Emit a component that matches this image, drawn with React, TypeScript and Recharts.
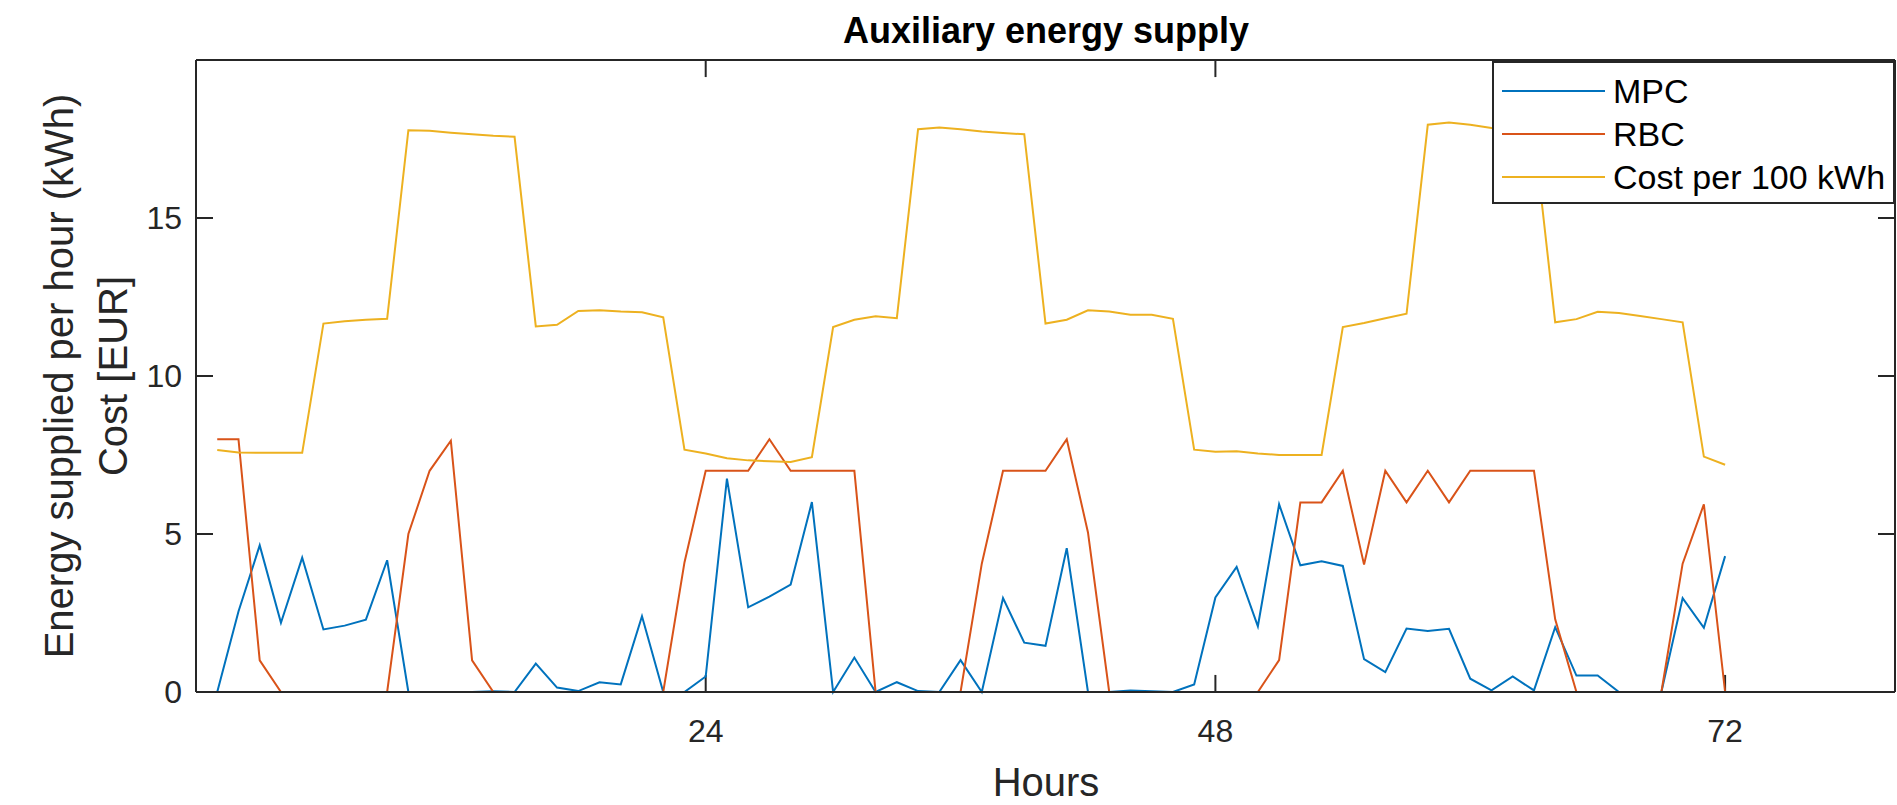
import React from 'react';
import {
  LineChart,
  Line,
  XAxis,
  YAxis,
  Label,
  ReferenceLine
} from 'recharts';

// hours 1..72
const hours = [
  1, 2, 3, 4, 5, 6, 7, 8, 9, 10, 11, 12, 13, 14, 15, 16, 17, 18, 19, 20, 21, 22, 23, 24,
  25, 26, 27, 28, 29, 30, 31, 32, 33, 34, 35, 36, 37, 38, 39, 40, 41, 42, 43, 44, 45, 46, 47, 48,
  49, 50, 51, 52, 53, 54, 55, 56, 57, 58, 59, 60, 61, 62, 63, 64, 65, 66, 67, 68, 69, 70, 71, 72
];

const mpc = [
  0, 2.55, 4.64, 2.19, 4.25, 1.98, 2.1, 2.29, 4.17, 0, 0, 0, 0, 0.02, 0, 0.9, 0.14, 0.03, 0.31, 0.24, 2.4, 0, 0, 0.49,
  6.75, 2.68, 3.02, 3.4, 6.01, 0, 1.09, 0, 0.31, 0.03, 0, 1.01, 0, 2.97, 1.56, 1.46, 4.55, 0, 0, 0.05, 0.02, 0, 0.24, 2.99,
  3.96, 2.08, 5.94, 4.01, 4.14, 3.99, 1.04, 0.63, 2.01, 1.93, 2.0, 0.42, 0.05, 0.49, 0.05, 2.05, 0.52, 0.52, 0, 0, 0, 2.97, 2.03, 4.3
];

const rbc = [
  8, 8, 1.0, 0, 0, 0, 0, 0, 0, 5.0, 7.0, 7.95, 1.0, 0, 0, 0, 0, 0, 0, 0, 0, 0, 4.1, 7,
  7, 7, 8, 7, 7, 7, 7, 0, 0, 0, 0, 0, 4.06, 7, 7, 7, 8, 5.05, 0, 0, 0, 0, 0, 0,
  0, 0, 1.01, 6, 6, 7, 4.03, 7, 6, 7, 6, 7, 7, 7, 7, 2.3, 0, 0, 0, 0, 0, 4.06, 5.94, 0
];

const cost = [
  7.66, 7.58, 7.57, 7.57, 7.57, 11.66, 11.73, 11.78, 11.81, 17.78, 17.76, 17.7, 17.65, 17.6, 17.57, 11.57, 11.62, 12.06, 12.08, 12.04, 12.02, 11.86, 7.67, 7.55,
  7.4, 7.33, 7.3, 7.28, 7.43, 11.55, 11.78, 11.89, 11.83, 17.81, 17.86, 17.81, 17.74, 17.69, 17.65, 11.66, 11.78, 12.08, 12.04, 11.94, 11.94, 11.81, 7.67, 7.6,
  7.62, 7.55, 7.5, 7.5, 7.5, 11.55, 11.68, 11.83, 11.97, 17.95, 18.02, 17.95, 17.85, 17.78, 17.7, 11.7, 11.8, 12.03, 11.99, 11.9, 11.8, 11.7, 7.45, 7.19
];

const xTicks = [24, 48, 72];
const yTicks = [0, 5, 10, 15];

const series = [
  { key: 'mpc', name: 'MPC', color: '#0072BD' },
  { key: 'rbc', name: 'RBC', color: '#D95319' },
  { key: 'cost', name: 'Cost per 100 kWh', color: '#EDB120' }
];

const data = hours.map((h, i) => ({ hour: h, mpc: mpc[i], rbc: rbc[i], cost: cost[i] }));

const FONT = '"Liberation Sans", Arial, Helvetica, sans-serif';
const AXIS = '#262626';

// legend drawn as an overlay so it does not eat plot space
function LegendBox() {
  return (
    <div
      style={{
        position: 'absolute',
        left: 1492,
        top: 61,
        width: 403,
        height: 143,
        boxSizing: 'border-box',
        border: `2px solid ${AXIS}`,
        background: 'white',
        fontFamily: FONT
      }}
    >
      {series.map((s, i) => (
        <div
          key={s.key}
          style={{ position: 'absolute', left: 8, top: 28 + i * 43 - 20, height: 40, display: 'flex', alignItems: 'center' }}
        >
          <div style={{ width: 103, height: 2, background: s.color }} />
          <span style={{ marginLeft: 8, fontSize: 34, color: '#000', whiteSpace: 'nowrap' }}>{s.name}</span>
        </div>
      ))}
    </div>
  );
}

export default function App() {
  const tickStyle = { fill: AXIS, fontSize: 32, fontFamily: FONT };
  return (
    <div style={{ position: 'absolute', left: 0, top: 0, width: 1897, height: 805, background: 'white' }}>
      <svg width={1897} height={60} style={{ position: 'absolute', left: 0, top: 0 }}>
        <text x={1046} y={43} textAnchor="middle" fontFamily={FONT} fontWeight="bold" fontSize={36} fill="#000">
          Auxiliary energy supply
        </text>
      </svg>
      <div style={{ position: 'absolute', left: 0, top: 0 }}>
        <LineChart width={1897} height={805} data={data} margin={{ top: 60, right: 2, bottom: 0, left: 0 }}>
          <XAxis
            dataKey="hour"
            type="number"
            domain={[0, 80]}
            ticks={xTicks}
            height={113}
            tickSize={0}
            tickMargin={27}
            tick={tickStyle}
            axisLine={{ stroke: AXIS, strokeWidth: 2 }}
          >
            <Label
              content={() => (
                <text x={1046} y={796} textAnchor="middle" fontFamily={FONT} fontSize={40} fill={AXIS}>
                  Hours
                </text>
              )}
            />
          </XAxis>
          <YAxis
            type="number"
            domain={[0, 20]}
            ticks={yTicks}
            width={196}
            tickSize={0}
            tickMargin={14}
            tick={tickStyle}
            axisLine={{ stroke: AXIS, strokeWidth: 2 }}
          >
            <Label
              content={() => (
                <g fontFamily={FONT} fontSize={40} fill={AXIS}>
                  <text transform="translate(59,376) rotate(-90)" textAnchor="middle" dominantBaseline="central">
                    Energy supplied per hour (kWh)
                  </text>
                  <text transform="translate(113,376) rotate(-90)" textAnchor="middle" dominantBaseline="central">
                    Cost [EUR]
                  </text>
                </g>
              )}
            />
          </YAxis>
          {/* box and inward ticks, matlab style */}
          <ReferenceLine y={20} stroke={AXIS} strokeWidth={2} />
          <ReferenceLine x={80} stroke={AXIS} strokeWidth={2} />
          {xTicks.map((t) => (
            <ReferenceLine key={'xb' + t} segment={[{ x: t, y: 0 }, { x: t, y: 0.54 }]} stroke={AXIS} strokeWidth={2} />
          ))}
          {xTicks.map((t) => (
            <ReferenceLine key={'xt' + t} segment={[{ x: t, y: 20 }, { x: t, y: 19.46 }]} stroke={AXIS} strokeWidth={2} />
          ))}
          {yTicks.map((t) => (
            <ReferenceLine key={'yl' + t} segment={[{ x: 0, y: t }, { x: 0.8, y: t }]} stroke={AXIS} strokeWidth={2} />
          ))}
          {yTicks.map((t) => (
            <ReferenceLine key={'yr' + t} segment={[{ x: 80, y: t }, { x: 79.2, y: t }]} stroke={AXIS} strokeWidth={2} />
          ))}
          {series.map((s) => (
            <Line
              key={s.key}
              type="linear"
              dataKey={s.key}
              name={s.name}
              stroke={s.color}
              strokeWidth={2}
              dot={false}
              isAnimationActive={false}
            />
          ))}
        </LineChart>
      </div>
      <LegendBox />
    </div>
  );
}
